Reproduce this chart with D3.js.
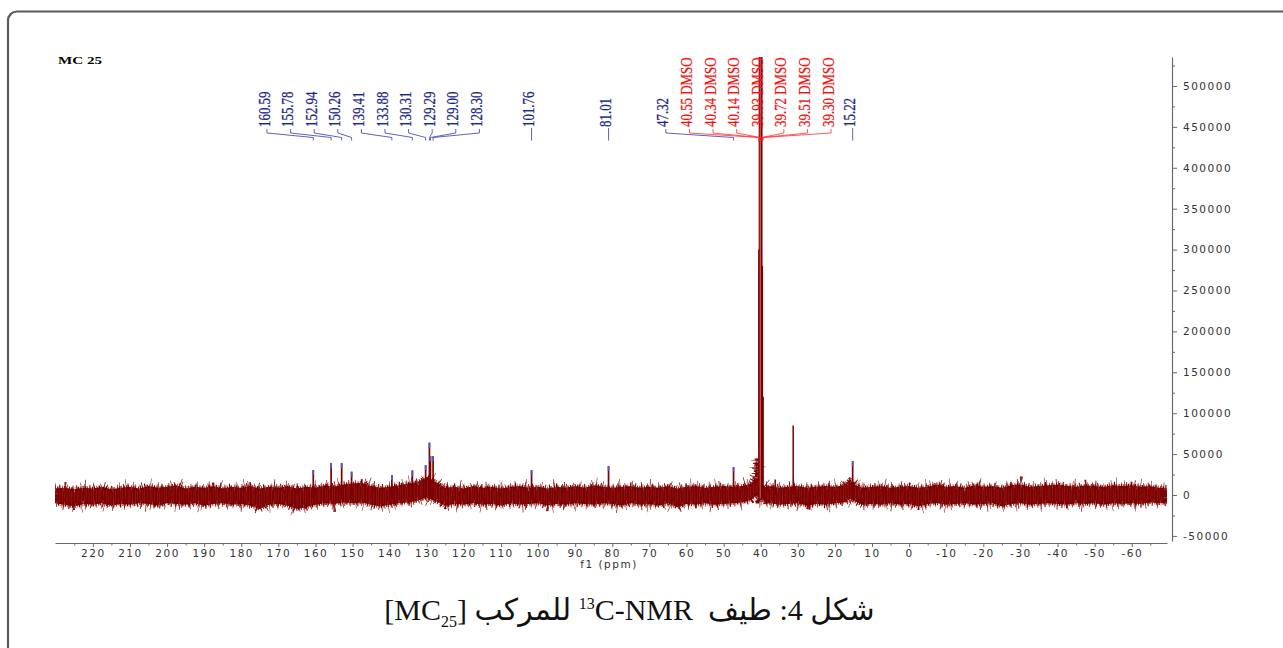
<!DOCTYPE html>
<html>
  <head>
    <meta charset="UTF-8" />
    <style>
      body {
        margin: 0;
        background: #fff;
      }
      #wrap {
        position: relative;
        width: 1283px;
        height: 648px;
        overflow: hidden;
      }
      svg {
        position: absolute;
        left: 0;
        top: 0;
      }
      .caption {
        position: absolute;
        left: -12px;
        width: 1283px;
        top: 584px;
        text-align: center;
        font-family: "Liberation Serif", "DejaVu Sans";
        font-size: 30px;
        line-height: 40px;
        color: #111;
      }
      .caption sup,
      .caption sub {
        font-size: 16px;
      }
    </style>
  </head>
  <body>
    <div id="wrap">
      <svg id="chart" width="1283" height="648"></svg>
      <div class="caption" dir="rtl">شكل 4: طيف&nbsp; <sup>13</sup>C-NMR للمركب [MC<sub>25</sub>]</div>
    </div>
    <script src="https://d3js.org/d3.v7.min.js"></script>
    <script>
      // labelled peaks (ppm, intensity)
      const peakPpm = [160.59, 155.78, 152.94, 150.26, 139.41, 133.88, 130.31, 129.29, 129.0, 128.3, 101.76, 81.01, 47.32, 15.22];
      const peakHeight = [30500, 39000, 39000, 28500, 24500, 30000, 36500, 64000, 47500, 47500, 30500, 35500, 34000, 41500];

      // solvent multiplet
      const dmsoPpm = [40.55, 40.34, 40.14, 39.93, 39.72, 39.51, 39.3];
      const dmsoHeight = [300000, 700000, 620000, 620000, 700000, 280000, 120000];

      // unlabelled lines
      const otherPpm = [31.25, 36.1, 177.6, 26.9];
      const otherHeight = [85000, 19000, 16000, -18000];

      // baseline noise band: [ppm, upper, lower] in thousands
      const noiseBand = [
        [230.2, 8, -10], [227.5, 9, -12], [225, 7, -14], [222.5, 9, -11], [220, 8, -12],
        [217.5, 10, -10], [215, 7, -13], [212.5, 9, -11], [210, 10, -12], [207.5, 8, -10],
        [205, 11, -11], [202.5, 9, -13], [200, 10, -10], [197.5, 12, -11], [195, 8, -12],
        [192.5, 10, -10], [190, 9, -13], [187.5, 11, -11], [185, 8, -10], [182.5, 10, -12],
        [180, 9, -11], [177.5, 11, -13], [175, 8, -17], [172.5, 10, -12], [170, 9, -11],
        [167.5, 11, -13], [165, 8, -17], [162.5, 10, -15], [160, 9, -12], [157.5, 12, -10],
        [155, 10, -11], [152.5, 13, -9], [150, 14, -10], [147.5, 15, -9], [145, 11, -12],
        [142.5, 9, -14], [140, 10, -12], [137.5, 12, -10], [135, 14, -9], [132.5, 16, -7],
        [130, 22, -3], [127.5, 16, -8], [125, 9, -13], [122.5, 10, -11], [120, 8, -12],
        [117.5, 11, -10], [115, 9, -12], [112.5, 10, -11], [110, 8, -13], [107.5, 10, -10],
        [105, 11, -12], [102.5, 9, -11], [100, 10, -10], [97.5, 8, -13], [95, 10, -11],
        [92.5, 9, -12], [90, 11, -10], [87.5, 9, -11], [85, 12, -12], [82.5, 10, -10],
        [80, 9, -11], [77.5, 10, -13], [75, 11, -10], [72.5, 9, -12], [70, 10, -11],
        [67.5, 9, -13], [65, 11, -10], [62.5, 8, -15], [60, 10, -11], [57.5, 11, -12],
        [55, 9, -10], [52.5, 10, -12], [50, 11, -11], [47.5, 10, -10], [45, 11, -9],
        [42.5, 14, -6], [41.6, 22, -2], [41.0, 45, 0], [40.6, 12, -6], [39.3, 12, -6],
        [38.7, 10, -11], [37.5, 11, -10], [35, 9, -12], [32.5, 10, -11], [30, 11, -10],
        [27.5, 9, -13], [25, 10, -11], [22.5, 11, -12], [20, 10, -10], [17.5, 12, -9],
        [16, 19, -5], [14.5, 12, -8], [12.5, 9, -12], [10, 10, -11], [7.5, 11, -12],
        [5, 9, -10], [2.5, 10, -12], [0, 11, -11], [-2.5, 9, -14], [-5, 10, -11],
        [-7.5, 13, -10], [-10, 10, -12], [-12.5, 11, -11], [-15, 9, -10], [-17.5, 12, -12],
        [-20, 10, -11], [-22.5, 11, -10], [-25, 9, -14], [-27.5, 12, -11], [-30, 13, -10],
        [-32.5, 10, -12], [-35, 11, -11], [-37.5, 12, -10], [-40, 13, -11], [-42.5, 11, -12],
        [-45, 10, -10], [-47.5, 12, -11], [-50, 11, -10], [-52.5, 10, -12], [-55, 12, -10],
        [-57.5, 11, -11], [-60, 12, -10], [-62.5, 10, -11], [-65, 11, -9], [-67.5, 9, -10],
        [-69.5, 8, -9],
      ];

      const xTicks = d3.range(220, -61, -10);
      const xMinor = d3.range(225, -66, -10);
      const yTicks = d3.range(-50000, 500001, 50000);
      const yMinor = d3.range(-25000, 525001, 50000);

      const blue = "#1b2488",
        red = "#f01414",
        wine = "#7c0000";

      let svg = d3.select("#chart");

      // frame
      svg
        .append("rect")
        .attr("x", 8)
        .attr("y", 11.5)
        .attr("width", 1400)
        .attr("height", 800)
        .attr("rx", 9)
        .attr("fill", "none")
        .attr("stroke", "#5a5a5a")
        .attr("stroke-width", 2.2);

      svg
        .append("text")
        .attr("x", 58)
        .attr("y", 64)
        .attr("textLength", 44)
        .attr("lengthAdjust", "spacingAndGlyphs")
        .style("font-family", "Liberation Serif")
        .style("font-weight", "bold")
        .style("font-size", "10px")
        .text("MC 25");

      let x = d3.scaleLinear().domain([230.2, -69.5]).range([55, 1167]);
      let y = d3.scaleLinear().domain([-56200, 535400]).range([541, 57]);

      let defs = svg.append("defs");
      defs
        .append("clipPath")
        .attr("id", "plotClip")
        .append("rect")
        .attr("x", 55)
        .attr("y", 57)
        .attr("width", 1112)
        .attr("height", 484);

      let pat = defs
        .append("pattern")
        .attr("id", "noiseTex")
        .attr("width", 7.3)
        .attr("height", 9)
        .attr("patternUnits", "userSpaceOnUse");
      pat.append("rect").attr("width", 7.3).attr("height", 9).attr("fill", wine);
      [
        [1.1, 0.4, 0.45],
        [3.9, 0.6, 0.3],
        [5.7, 0.35, 0.5],
      ].forEach((s) =>
        pat
          .append("rect")
          .attr("x", s[0])
          .attr("width", s[1])
          .attr("height", 9)
          .attr("fill", "#c86a6a")
          .attr("opacity", s[2])
      );

      // axes
      function styleAxis(g) {
        g.select(".domain").attr("stroke", "#6a6a6a").attr("stroke-width", 1.2);
        g.selectAll(".tick line").attr("stroke", "#6a6a6a");
        g.selectAll(".tick text")
          .attr("fill", "#333")
          .style("font-family", "DejaVu Sans")
          .style("font-size", "10.5px")
          .style("letter-spacing", "1.5px");
      }

      svg
        .append("g")
        .attr("transform", "translate(0,543)")
        .call(d3.axisBottom(x).tickValues(xTicks).tickSize(4).tickSizeOuter(0).tickPadding(3).tickFormat((d) => d))
        .call(styleAxis);
      svg
        .append("g")
        .attr("transform", "translate(0,543)")
        .call(d3.axisBottom(x).tickValues(xMinor).tickSize(2.5).tickFormat(""))
        .call((g) => g.select(".domain").remove())
        .call(styleAxis);

      svg
        .append("text")
        .attr("x", 609)
        .attr("y", 568)
        .attr("text-anchor", "middle")
        .attr("fill", "#333")
        .style("font-family", "DejaVu Sans")
        .style("font-size", "10.5px")
        .style("letter-spacing", "1.5px")
        .text("f1 (ppm)");

      svg
        .append("g")
        .attr("transform", "translate(1172,0)")
        .call(d3.axisRight(y).tickValues(yTicks).tickSize(5).tickSizeOuter(0).tickPadding(6).tickFormat((d) => d))
        .call(styleAxis);
      svg
        .append("g")
        .attr("transform", "translate(1172,0)")
        .call(d3.axisRight(y).tickValues(yMinor).tickSize(3).tickFormat(""))
        .call((g) => g.select(".domain").remove())
        .call(styleAxis);

      // spectrum
      let plot = svg.append("g").attr("clip-path", "url(#plotClip)");

      let band = d3
        .area()
        .x((d) => x(d[0]))
        .y0((d) => y(d[2] * 1000))
        .y1((d) => y(d[1] * 1000));

      plot
        .append("path")
        .datum(noiseBand)
        .attr("d", band)
        .attr("fill", "url(#noiseTex)");

      // ragged fringe along the noise edges
      const fringe = [
        { w: 3.5, dash: "0.9 1.3 1.4 0.8 0.7 1.9", c: wine, o: 1 },
        { w: 7, dash: "0.8 3.7 1.1 6.2 0.6 4.9", c: wine, o: 1 },
        { w: 11, dash: "0.7 9.1 0.9 15.7 0.6 12.3", c: wine, o: 0.9 },
        { w: 16, dash: "0.6 29.3 0.8 41.1 0.6 23.9", c: wine, o: 0.85 },
        { w: 6, dash: "0.5 7.3 0.5 11.1", c: "#c87070", o: 0.8 },
      ];
      fringe.forEach((f) =>
        plot
          .append("path")
          .datum(noiseBand)
          .attr("d", band)
          .attr("fill", "none")
          .attr("stroke", f.c)
          .attr("stroke-opacity", f.o)
          .attr("stroke-width", f.w)
          .attr("stroke-dasharray", f.dash)
      );

      let others = otherPpm.map((p, i) => ({ ppm: p, h: otherHeight[i] }));
      plot
        .selectAll(".other")
        .data(others)
        .enter()
        .append("line")
        .attr("x1", (d) => x(d.ppm))
        .attr("x2", (d) => x(d.ppm))
        .attr("y1", y(0))
        .attr("y2", (d) => y(d.h))
        .attr("stroke", wine)
        .attr("stroke-width", 1.5);

      let dmso = dmsoPpm.map((p, i) => ({ ppm: p, h: dmsoHeight[i] }));
      plot
        .selectAll(".dmso")
        .data(dmso)
        .enter()
        .append("line")
        .attr("x1", (d) => x(d.ppm))
        .attr("x2", (d) => x(d.ppm))
        .attr("y1", y(-4000))
        .attr("y2", (d) => y(d.h))
        .attr("stroke", (d, i) => (i == 2 || i == 3 ? "#b85050" : wine))
        .attr("stroke-width", (d, i) => (i == 1 || i == 4 ? 1.6 : 1.1));

      let peaks = peakPpm.map((p, i) => ({ ppm: p, h: peakHeight[i] }));
      plot
        .selectAll(".peak")
        .data(peaks)
        .enter()
        .append("line")
        .attr("x1", (d) => x(d.ppm))
        .attr("x2", (d) => x(d.ppm))
        .attr("y1", y(-5000))
        .attr("y2", (d) => y(d.h))
        .attr("stroke", wine)
        .attr("stroke-width", 1.7);
      plot
        .selectAll(".tip")
        .data(peaks)
        .enter()
        .append("line")
        .attr("x1", (d) => x(d.ppm))
        .attr("x2", (d) => x(d.ppm))
        .attr("y1", (d) => y(d.h))
        .attr("y2", (d) => y(d.h) + 5)
        .attr("stroke", "#5454c8")
        .attr("stroke-width", 1.7);

      // peak labels, spread into clusters
      let labs = peaks
        .map((d) => ({ ppm: d.ppm, text: d.ppm.toFixed(2), color: blue }))
        .concat(dmsoPpm.map((p) => ({ ppm: p, text: p.toFixed(2) + " DMSO", color: red })))
        .sort((a, b) => b.ppm - a.ppm);

      const sp = 23.6,
        minGap = 20;
      let clusters = labs.map((l) => ({ items: [l] }));
      function center(c) {
        let xs = c.items.map((d) => x(d.ppm));
        return (d3.min(xs) + d3.max(xs)) / 2;
      }
      let left = (c) => center(c) - ((c.items.length - 1) / 2) * sp;
      let right = (c) => center(c) + ((c.items.length - 1) / 2) * sp;
      let merged = true;
      while (merged) {
        merged = false;
        for (let i = 0; i < clusters.length - 1; i++) {
          if (right(clusters[i]) + minGap > left(clusters[i + 1])) {
            clusters[i].items = clusters[i].items.concat(clusters[i + 1].items);
            clusters.splice(i + 1, 1);
            merged = true;
            break;
          }
        }
      }

      let labelG = svg.append("g");
      clusters.forEach((c) => {
        let l0 = left(c);
        c.items.forEach((d, i) => {
          let slot = c.items.length > 1 ? l0 + i * sp : x(d.ppm);
          let px = x(d.ppm);
          labelG
            .append("text")
            .attr("transform", "translate(" + (slot + 2.6) + ",127) rotate(-90) scale(0.76,1)")
            .attr("fill", d.color)
            .attr("stroke", d.color)
            .attr("stroke-width", 0.25)
            .style("font-family", "Liberation Serif")
            .style("font-size", "17px")
            .text(d.text);
          let path =
            c.items.length > 1
              ? "M" + slot + ",129V133L" + px + ",137.5V140.5"
              : "M" + px + ",128V140.5";
          labelG
            .append("path")
            .attr("d", path)
            .attr("fill", "none")
            .attr("stroke", d.color == red ? "#ff3030" : "#3a3aa8")
            .attr("stroke-width", 0.8);
        });
      });
      labelG
        .append("circle")
        .attr("cx", x(d3.mean(dmsoPpm)))
        .attr("cy", 139)
        .attr("r", 1.6)
        .attr("fill", red);
    </script>
  </body>
</html>
